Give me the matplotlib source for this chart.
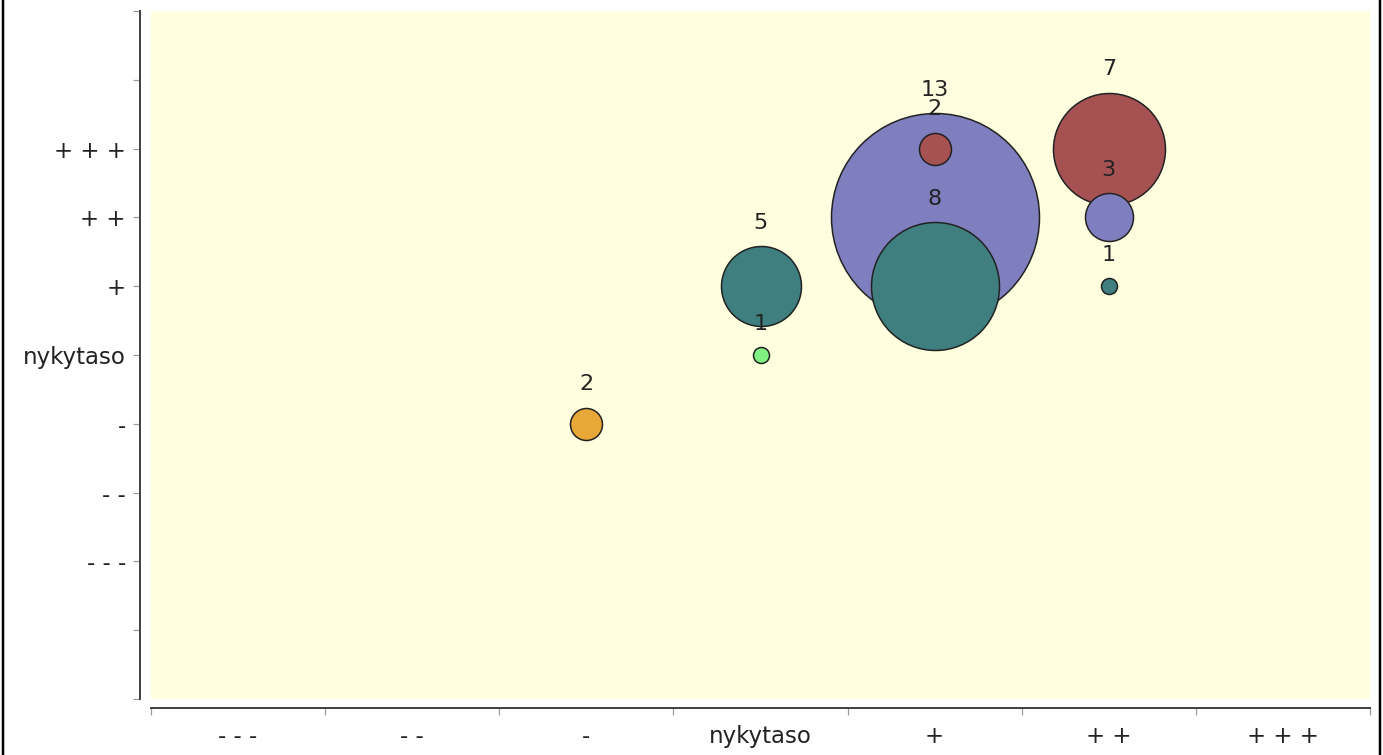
import matplotlib.pyplot as plt
import matplotlib.lines as mlines
import numpy as np

# Kategorier (samma skala på båda axlarna)
levels = ['- - -', '- -', '-', 'nykytaso', '+', '+ +', '+ + +']

# Bubblor: x-nivå, y-nivå och antal
bubble_x = ['-', 'nykytaso', 'nykytaso', '+', '+', '+', '+ +', '+ +', '+ +']
bubble_y = ['-', 'nykytaso', '+', '+ +', '+', '+ + +', '+ + +', '+ +', '+']
counts = [2, 1, 5, 13, 8, 2, 7, 3, 1]

# Färg efter y-nivå
level_colors = {
    '-': '#e8a838',
    'nykytaso': '#80f080',
    '+': '#3f7f7f',
    '+ +': '#7f7fbf',
    '+ + +': '#a65252',
}

DPI = 100
W, H = 1383, 755
fig = plt.figure(figsize=(W / DPI, H / DPI), dpi=DPI)
px = 72.0 / DPI  # punkter per pixel

# Plot-ytan i pixlar
left, right, top, bottom = 151, 1370, 11, 699
ax = fig.add_axes([left / W, 1 - bottom / H, (right - left) / W, (bottom - top) / H])
ax.set_facecolor('#ffffe0')

ax.set_xlim(-0.5, len(levels) - 0.5)
ax.set_ylim(-5, 5)

xi = np.array([levels.index(v) for v in bubble_x])
yi = np.array([levels.index(v) for v in bubble_y]) - 3
cnt = np.array(counts)

# radie i pixlar proportionell mot antal
radius_px = 8 * cnt
order = np.argsort(-cnt, kind='stable')

for i in order:
    d_pt = 2 * radius_px[i] * px
    ax.scatter(xi[i], yi[i], s=d_pt ** 2, color=level_colors[bubble_y[i]],
               edgecolors='#222222', linewidths=1.1, zorder=3)

for i in order:
    ax.annotate(str(cnt[i]), (xi[i], yi[i]),
                xytext=(0, (radius_px[i] + 23.5) * px), textcoords='offset points',
                ha='center', va='center', fontsize=16, color='#222222', zorder=5)

# Axlar
for s in ['top', 'right']:
    ax.spines[s].set_visible(False)
ax.spines['left'].set_position(('outward', 11 * px))
ax.spines['bottom'].set_position(('outward', 9 * px))
for s in ['left', 'bottom']:
    ax.spines[s].set_color('#444444')
    ax.spines[s].set_linewidth(2.0 * px)

ax.set_yticks(np.arange(-5, 6))
ax.set_yticklabels(['', '', '- - -', '- -', '-', 'nykytaso', '+', '+ +', '+ + +', '', ''])
ax.tick_params(axis='y', length=7 * px, width=1.2 * px, color='#999999',
               pad=7 * px, labelsize=16.5, labelcolor='#222222')

ax.set_xticks(np.arange(len(levels)))
ax.set_xticklabels(levels)
ax.tick_params(axis='x', which='major', length=0, pad=17 * px,
               labelsize=16.5, labelcolor='#222222')
ax.set_xticks(np.arange(len(levels) + 1) - 0.5, minor=True)
ax.tick_params(axis='x', which='minor', length=7 * px, width=1.2 * px, color='#999999')

# Ram till vänster och höger
for xpos in [3.0, 1380.0]:
    fig.add_artist(mlines.Line2D([xpos / W, xpos / W], [0, 1], color='black',
                                 linewidth=2.5 * px, transform=fig.transFigure))

fig.savefig('out.png', dpi=DPI, facecolor='white')
plt.close()
